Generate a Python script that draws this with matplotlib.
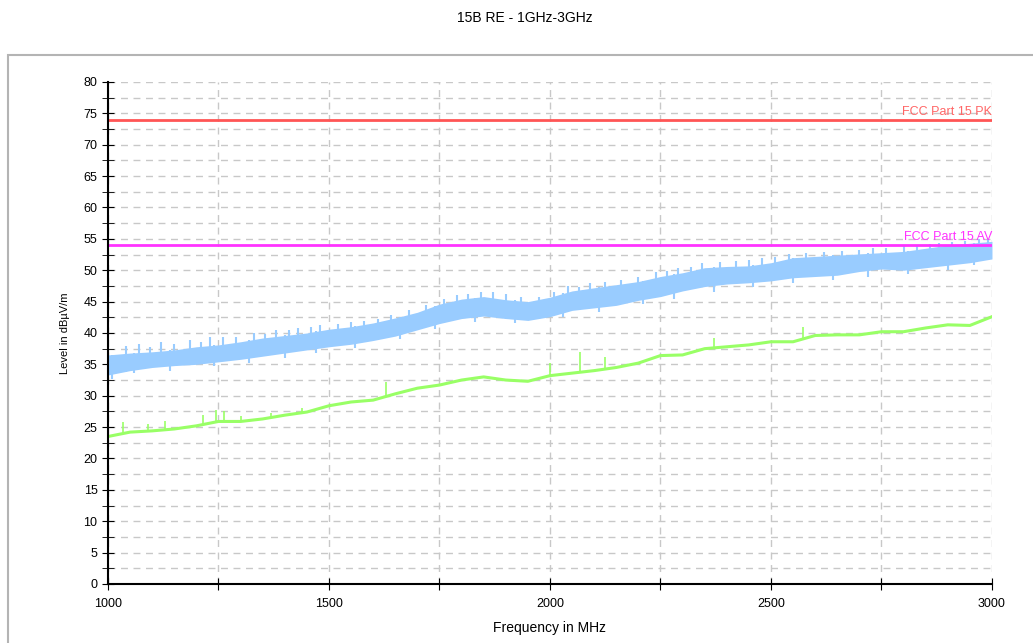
import matplotlib.pyplot as plt
import matplotlib.patches as patches
import numpy as np

plt.rcParams['font.family'] = ['Liberation Sans', 'DejaVu Sans']

# frequency grid of the read-off values (MHz)
freq = np.arange(1000, 3001, 50)

# peak trace envelope (dBuV/m)
pk_low = [33.3, 34.0, 34.5, 34.8, 35.0, 35.4, 35.8, 36.3, 36.8, 37.3, 37.8,
          38.2, 38.8, 39.5, 40.5, 41.5, 42.3, 42.7, 42.3, 42.0, 42.6,
          43.6, 44.0, 44.4, 45.2, 45.8, 46.7, 47.4, 47.8, 48.0, 48.3,
          48.8, 49.0, 49.2, 49.8, 50.2, 50.0, 50.4, 50.8, 51.2, 51.8]
pk_high = [36.5, 36.8, 37.0, 37.3, 37.8, 38.1, 38.6, 39.2, 39.6, 40.0, 40.6,
           41.0, 41.6, 42.4, 43.3, 44.6, 45.4, 45.8, 45.3, 45.0, 45.7,
           46.7, 47.2, 47.7, 48.2, 49.0, 49.6, 50.4, 50.6, 50.7, 51.2,
           52.0, 52.2, 52.4, 52.6, 52.8, 53.0, 53.5, 54.0, 54.3, 54.6]
# spikes sticking out above the peak band
pk_spike_f = [1000, 1040, 1070, 1095, 1120, 1150, 1185, 1210, 1230, 1260, 1290,
              1330, 1355, 1380, 1410, 1430, 1460, 1480, 1520, 1550, 1580,
              1610, 1640, 1680, 1720, 1760, 1790, 1815, 1845, 1870, 1900,
              1935, 1975, 2010, 2040, 2065, 2090, 2125, 2160, 2200, 2240,
              2265, 2290, 2320, 2345, 2385, 2420, 2450, 2480, 2510, 2540,
              2580, 2620, 2660, 2700, 2730, 2760, 2800, 2830, 2860, 2880,
              2910, 2940, 2970, 2990]
pk_spike_v = [37.6, 37.9, 38.2, 37.8, 38.6, 38.3, 38.9, 38.6, 39.3, 39.4, 39.3,
              40.0, 39.8, 40.4, 40.5, 40.8, 40.9, 41.3, 41.5, 41.7, 41.9,
              42.3, 42.9, 43.6, 44.4, 45.4, 46.0, 46.2, 46.6, 46.5, 46.2,
              45.8, 45.8, 46.6, 47.5, 47.4, 47.9, 48.1, 48.5, 49.0, 49.7,
              49.8, 50.3, 50.5, 51.2, 51.3, 51.5, 51.6, 52.0, 52.1, 52.6,
              52.8, 52.9, 53.1, 53.3, 53.5, 53.6, 53.8, 54.0, 54.2, 54.4,
              54.5, 54.7, 54.9, 55.0]
# dips below the peak band
pk_dip_f = [1010, 1060, 1140, 1240, 1320, 1400, 1470, 1560, 1660, 1740, 1830,
            1920, 2030, 2110, 2210, 2280, 2370, 2460, 2550, 2640, 2720, 2810,
            2900, 2960]
pk_dip_v = [32.6, 33.6, 34.0, 34.8, 35.2, 36.0, 36.8, 37.6, 39.0, 40.6, 41.8,
            41.6, 42.6, 43.4, 44.6, 45.4, 46.6, 47.3, 47.9, 48.5, 49.0, 49.4,
            50.0, 50.8]

# average trace
av = [23.5, 24.2, 24.4, 24.7, 25.2, 25.9, 25.9, 26.3, 26.9, 27.4, 28.4,
      29.0, 29.3, 30.3, 31.2, 31.7, 32.5, 33.0, 32.5, 32.3, 33.2,
      33.6, 34.0, 34.5, 35.2, 36.4, 36.5, 37.5, 37.8, 38.1, 38.6,
      38.6, 39.6, 39.7, 39.7, 40.2, 40.2, 40.8, 41.3, 41.2, 42.6]
av_spike_f = [1000, 1035, 1090, 1130, 1215, 1245, 1262, 1300, 1370, 1440,
              1630, 2000, 2068, 2125, 2370, 2572]
av_spike_v = [27.3, 25.8, 25.5, 26.0, 27.0, 27.7, 27.5, 26.8, 27.3, 28.0,
              32.2, 35.2, 37.0, 36.2, 39.2, 41.0]

limit_pk = 74
limit_av = 54

fig = plt.figure(figsize=(10.33, 6.43), dpi=100)
ax = fig.add_axes([0.1045, 0.0918, 0.8558, 0.7807])

# outer frame (only top/left visible in the original)
fig.patches.append(patches.Rectangle((0.0077, -0.2), 1.2, 0.2 + 0.9145,
                                     transform=fig.transFigure, fill=False,
                                     edgecolor='#b4b4b4', linewidth=1.5))

blue = '#99ccff'
green = '#99ff66'

ax.fill_between(freq, pk_low, pk_high, color=blue, linewidth=0)
ax.vlines(pk_spike_f, np.interp(pk_spike_f, freq, pk_low), pk_spike_v,
          color=blue, linewidth=1.5)
ax.vlines(pk_dip_f, pk_dip_v, np.interp(pk_dip_f, freq, pk_high),
          color=blue, linewidth=1.5)
ax.plot(freq, av, color=green, linewidth=2.2)
ax.vlines(av_spike_f, np.interp(av_spike_f, freq, av), av_spike_v,
          color=green, linewidth=1.2)

ax.axhline(limit_pk, color='#ff5555', linewidth=2)
ax.axhline(limit_av, color='#ff33ff', linewidth=2)
ax.text(3000, limit_pk + 0.3, 'FCC Part 15 PK', color='#ff6666', ha='right',
        va='bottom', fontsize=9)
ax.text(3000, limit_av + 0.3, 'FCC Part 15 AV', color='#ff33ff', ha='right',
        va='bottom', fontsize=9)

ax.set_xlim(1000, 3000)
ax.set_ylim(0, 80)
ax.set_xticks(np.arange(1000, 3001, 250))
ax.set_xticklabels([str(v) if v % 500 == 0 else '' for v in range(1000, 3001, 250)])
ax.set_yticks(np.arange(0, 81, 5))
ax.set_yticks(np.arange(2.5, 80, 5), minor=True)
ax.tick_params(axis='both', which='both', direction='inout', labelsize=9,
               color='black')
ax.tick_params(axis='y', which='major', length=8)
ax.tick_params(axis='y', which='minor', length=8)
ax.tick_params(axis='x', which='major', length=8, pad=6)

ax.grid(True, which='both', linestyle=(0, (5, 4)), color='#c8c8c8', linewidth=1)
ax.set_axisbelow(True)
for s in ['top', 'right']:
    ax.spines[s].set_visible(False)
ax.spines['left'].set_linewidth(1.5)
ax.spines['bottom'].set_linewidth(1.5)

ax.set_xlabel('Frequency in MHz', fontsize=10, labelpad=8)
ax.set_ylabel('Level in dBµV/m', fontsize=8, labelpad=10)
fig.text(0.508, 0.972, '15B RE - 1GHz-3GHz', ha='center', va='center', fontsize=10)

fig.savefig('out.png', dpi=100)
